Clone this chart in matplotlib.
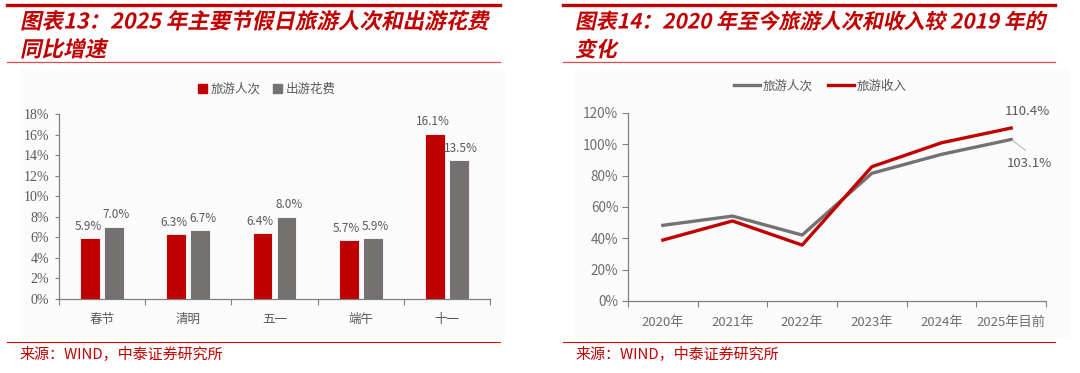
import matplotlib
matplotlib.use("Agg")
import matplotlib.pyplot as plt
from matplotlib import patheffects
from matplotlib.transforms import Affine2D
from matplotlib.patches import Rectangle, Patch
from matplotlib.lines import Line2D
import numpy as np

plt.rcParams['font.family'] = ['Noto Sans CJK SC', 'DejaVu Sans']

# ---------------- data ----------------
holidays = ['春节', '清明', '五一', '端午', '十一']
trips_growth = [5.9, 6.3, 6.4, 5.7, 16.1]      # 旅游人次
spend_growth = [7.0, 6.7, 8.0, 5.9, 13.5]      # 出游花费
bar_yticks = [0, 2, 4, 6, 8, 10, 12, 14, 16, 18]

years = ['2020年', '2021年', '2022年', '2023年', '2024年', '2025年目前']
trips_vs2019 = [48.3, 54.2, 42.1, 81.5, 93.6, 103.1]     # 旅游人次
revenue_vs2019 = [38.9, 51.1, 35.7, 85.7, 101.0, 110.4]  # 旅游收入
line_yticks = [0, 20, 40, 60, 80, 100, 120]

title_left_1 = '图表13：2025 年主要节假日旅游人次和出游花费'
title_left_2 = '同比增速'
title_right_1 = '图表14：2020 年至今旅游人次和收入较 2019 年的'
title_right_2 = '变化'
source = '来源：WIND，中泰证券研究所'

RED = '#C00000'
GRAY = '#767171'
TXT = '#595959'

W, H = 1080, 373
fig = plt.figure(figsize=(W / 100, H / 100), dpi=100)


def fx(px):
    return px / W


def fy(py):
    return 1 - py / H


class Skew(patheffects.AbstractPathEffect):
    def __init__(self, angle=12):
        super().__init__()
        self.angle = angle

    def draw_path(self, renderer, gc, tpath, affine, rgbFace=None):
        affine = Affine2D().skew_deg(self.angle, 0) + affine
        renderer.draw_path(gc, tpath, affine, rgbFace)


# background panels
for x0, x1 in [(20, 505), (575, 1070)]:
    fig.patches.append(Rectangle((fx(x0), fy(338)), fx(x1 - x0), (338 - 68) / H,
                                 transform=fig.transFigure, facecolor='#fbfbfb',
                                 edgecolor='none', zorder=-5))

# decorative lines
for x0, x1 in [(7, 500), (563, 1055)]:
    fig.add_artist(Line2D([fx(x0), fx(x1)], [fy(4.5), fy(4.5)], color=RED, lw=2.4,
                          transform=fig.transFigure))
    fig.add_artist(Line2D([fx(x0), fx(x1)], [fy(62), fy(62)], color='#D84B4B', lw=0.9,
                          transform=fig.transFigure))
    fig.add_artist(Line2D([fx(x0), fx(x1)], [fy(342), fy(342)], color='#E00000', lw=0.8,
                          transform=fig.transFigure))

# titles
for base, size, t1, t2 in [(20, 15.5, title_left_1, title_left_2),
                           (575, 15, title_right_1, title_right_2)]:
    for yy, t in [(22, t1), (50, t2)]:
        fig.text(fx(base), fy(yy), t, fontsize=size, fontweight='bold', color=RED,
                 ha='left', va='center', path_effects=[Skew(12)])

# sources
fig.text(fx(19), fy(354), source, fontsize=10.8, color=RED, ha='left', va='center')
fig.text(fx(575), fy(354), source, fontsize=10.8, color=RED, ha='left', va='center')

# ---------------- left: bar chart ----------------
ax1 = fig.add_axes([fx(59), fy(299), fx(490 - 59), (299 - 114) / H])
ax1.set_facecolor('none')
x = np.arange(len(holidays))
bw = 0.23
off = 0.14
b1 = ax1.bar(x - off, trips_growth, bw, color=RED, edgecolor='white', linewidth=0.6,
             label='旅游人次', zorder=3)
b2 = ax1.bar(x + off, spend_growth, bw, color=GRAY, edgecolor='white', linewidth=0.6,
             label='出游花费', zorder=3)
for bars, vals, dx in [(b1, trips_growth, -1.5), (b2, spend_growth, 1.5)]:
    for r, v in zip(bars, vals):
        ax1.annotate(f'{v:.1f}%', (r.get_x() + r.get_width() / 2, v),
                     xytext=(dx, 4), textcoords='offset points', ha='center', va='bottom',
                     fontsize=8.5, color=TXT)
ax1.set_xlim(-0.5, len(holidays) - 0.5)
ax1.set_ylim(0, 18)
ax1.set_yticks(bar_yticks)
ax1.set_yticklabels([f'{v}%' for v in bar_yticks], fontfamily='Liberation Serif',
                    fontsize=10, color=TXT)
ax1.set_xticks(np.arange(-0.5, len(holidays), 1.0))
ax1.set_xticklabels([])
ax1.set_xticks(x, minor=True)
ax1.set_xticklabels(holidays, minor=True, fontsize=9, color=TXT)
ax1.tick_params(axis='x', which='major', direction='out', length=4, color='#808080')
ax1.tick_params(axis='x', which='minor', length=0, pad=10)
ax1.tick_params(axis='y', direction='out', length=3, color='#808080', pad=4)
for s in ['top', 'right']:
    ax1.spines[s].set_visible(False)
for s in ['left', 'bottom']:
    ax1.spines[s].set_color('#808080')
    ax1.spines[s].set_linewidth(0.9)

fig.legend(handles=[Patch(color=RED, label='旅游人次'), Patch(color=GRAY, label='出游花费')],
           loc='center', bbox_to_anchor=(fx(267), fy(89)), ncol=2, frameon=False,
           fontsize=9, labelcolor=TXT, handlelength=0.7, handleheight=0.7,
           handletextpad=0.3, columnspacing=1.0)

# ---------------- right: line chart ----------------
ax2 = fig.add_axes([fx(628), fy(301), fx(1046 - 628), (301 - 113) / H])
ax2.set_facecolor('none')
xi = np.arange(len(years))
ax2.plot(xi, trips_vs2019, color=GRAY, lw=2.4, label='旅游人次', zorder=3)
ax2.plot(xi, revenue_vs2019, color=RED, lw=2.4, label='旅游收入', zorder=4)
ax2.set_xlim(-0.5, len(years) - 0.5)
ax2.set_ylim(0, 120)
ax2.set_yticks(line_yticks)
ax2.set_yticklabels([f'{v}%' for v in line_yticks], fontsize=9.8, color='#6e6e6e')
ax2.set_xticks(np.arange(-0.5, len(years), 1.0))
ax2.set_xticklabels([])
ax2.set_xticks(xi, minor=True)
ax2.set_xticklabels(years, minor=True, fontsize=9.5, color='#6e6e6e')
ax2.tick_params(axis='x', which='major', direction='out', length=4, color='#808080')
ax2.tick_params(axis='x', which='minor', length=0, pad=11)
ax2.tick_params(axis='y', direction='out', length=4, color='#808080', pad=3)
for s in ['top', 'right']:
    ax2.spines[s].set_visible(False)
for s in ['left', 'bottom']:
    ax2.spines[s].set_color('#808080')
    ax2.spines[s].set_linewidth(0.9)

last = len(years) - 1
ax2.annotate(f'{revenue_vs2019[last]:.1f}%', (last, revenue_vs2019[last]),
             xytext=(12, 12), textcoords='offset points', ha='center', va='center',
             fontsize=9.5, color=TXT)
ax2.annotate(f'{trips_vs2019[last]:.1f}%', (last, trips_vs2019[last]),
             xytext=(13, -17), textcoords='offset points', ha='center', va='center',
             fontsize=9.5, color=TXT,
             arrowprops=dict(arrowstyle='-', color='#b0b0b0', lw=0.7, shrinkA=4, shrinkB=1,
                             relpos=(0.6, 1.0)))

fig.legend(handles=[Line2D([], [], color=GRAY, lw=2.4, label='旅游人次'),
                    Line2D([], [], color=RED, lw=2.4, label='旅游收入')],
           loc='center', bbox_to_anchor=(fx(820), fy(86)), ncol=2, frameon=False,
           fontsize=9, labelcolor=TXT, handlelength=2.1, handletextpad=0.2,
           columnspacing=1.2)

fig.savefig('out.png', dpi=100)
